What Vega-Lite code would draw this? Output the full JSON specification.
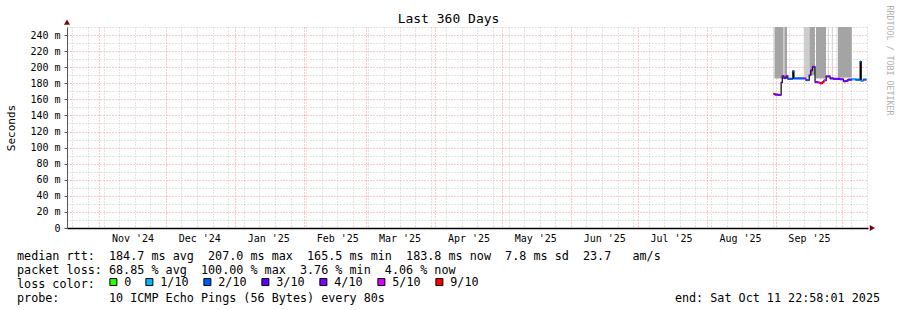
{
  "$schema": "https://vega.github.io/schema/vega-lite/v6.json",
  "width": 801,
  "height": 201,
  "autosize": {"type": "none"},
  "padding": {"left": 67, "top": 27, "right": 29, "bottom": 82},
  "background": "white",
  "config": {"view": {"stroke": null}, "font": "DejaVu Sans Mono"},
  "title": {"text": "Last 360 Days", "font": "DejaVu Sans Mono", "fontSize": 13, "fontWeight": "normal", "color": "black", "anchor": "middle", "offset": 4, "dy": 25, "dx": -19},
  "datasets": {
    "median": [
      {"t": "2025-08-30T23:00:00Z", "t2": "2025-08-31T17:00:00Z", "v": 167, "loss": "9/10"},
      {"t": "2025-08-31T17:00:00Z", "t2": "2025-09-02T00:00:00Z", "v": 166, "loss": "3/10"},
      {"t": "2025-09-02T00:00:00Z", "t2": "2025-09-03T12:00:00Z", "v": 165.5, "loss": "4/10"},
      {"t": "2025-09-03T12:00:00Z", "t2": "2025-09-04T00:00:00Z", "v": 181, "loss": "3/10"},
      {"t": "2025-09-04T00:00:00Z", "t2": "2025-09-04T18:00:00Z", "v": 189, "loss": "4/10"},
      {"t": "2025-09-04T18:00:00Z", "t2": "2025-09-05T18:00:00Z", "v": 186.5, "loss": "3/10"},
      {"t": "2025-09-05T18:00:00Z", "t2": "2025-09-06T12:00:00Z", "v": 189, "loss": "4/10"},
      {"t": "2025-09-06T12:00:00Z", "t2": "2025-09-08T18:00:00Z", "v": 185.5, "loss": "2/10"},
      {"t": "2025-09-08T18:00:00Z", "t2": "2025-09-09T06:00:00Z", "v": 195, "loss": "2/10"},
      {"t": "2025-09-09T06:00:00Z", "t2": "2025-09-13T18:00:00Z", "v": 186, "loss": "2/10"},
      {"t": "2025-09-13T18:00:00Z", "t2": "2025-09-14T15:00:00Z", "v": 186, "loss": "5/10"},
      {"t": "2025-09-14T15:00:00Z", "t2": "2025-09-16T03:00:00Z", "v": 184, "loss": "2/10"},
      {"t": "2025-09-16T03:00:00Z", "t2": "2025-09-16T20:00:00Z", "v": 190, "loss": "4/10"},
      {"t": "2025-09-16T20:00:00Z", "t2": "2025-09-17T14:00:00Z", "v": 196, "loss": "4/10"},
      {"t": "2025-09-17T14:00:00Z", "t2": "2025-09-18T18:00:00Z", "v": 200.5, "loss": "4/10"},
      {"t": "2025-09-18T18:00:00Z", "t2": "2025-09-20T00:00:00Z", "v": 181.5, "loss": "4/10"},
      {"t": "2025-09-20T00:00:00Z", "t2": "2025-09-21T00:00:00Z", "v": 181, "loss": "5/10"},
      {"t": "2025-09-21T00:00:00Z", "t2": "2025-09-22T00:00:00Z", "v": 180, "loss": "9/10"},
      {"t": "2025-09-22T00:00:00Z", "t2": "2025-09-22T18:00:00Z", "v": 181.5, "loss": "9/10"},
      {"t": "2025-09-22T18:00:00Z", "t2": "2025-09-23T18:00:00Z", "v": 183.7, "loss": "5/10"},
      {"t": "2025-09-23T18:00:00Z", "t2": "2025-09-25T12:00:00Z", "v": 188.5, "loss": "4/10"},
      {"t": "2025-09-25T12:00:00Z", "t2": "2025-09-27T00:00:00Z", "v": 186, "loss": "3/10"},
      {"t": "2025-09-27T00:00:00Z", "t2": "2025-09-28T12:00:00Z", "v": 185.5, "loss": "4/10"},
      {"t": "2025-09-28T12:00:00Z", "t2": "2025-09-30T00:00:00Z", "v": 185.5, "loss": "3/10"},
      {"t": "2025-09-30T00:00:00Z", "t2": "2025-10-01T12:00:00Z", "v": 185, "loss": "4/10"},
      {"t": "2025-10-01T12:00:00Z", "t2": "2025-10-02T12:00:00Z", "v": 182.5, "loss": "3/10"},
      {"t": "2025-10-02T12:00:00Z", "t2": "2025-10-03T12:00:00Z", "v": 183, "loss": "4/10"},
      {"t": "2025-10-03T12:00:00Z", "t2": "2025-10-05T06:00:00Z", "v": 184.5, "loss": "3/10"},
      {"t": "2025-10-05T06:00:00Z", "t2": "2025-10-07T00:00:00Z", "v": 185, "loss": "1/10"},
      {"t": "2025-10-07T00:00:00Z", "t2": "2025-10-09T00:00:00Z", "v": 184.5, "loss": "2/10"},
      {"t": "2025-10-09T00:00:00Z", "t2": "2025-10-09T12:00:00Z", "v": 207, "loss": "2/10"},
      {"t": "2025-10-09T12:00:00Z", "t2": "2025-10-10T06:00:00Z", "v": 183, "loss": "1/10"},
      {"t": "2025-10-10T06:00:00Z", "t2": "2025-10-11T22:58:00Z", "v": 184.5, "loss": "2/10"}
    ],
    "smokeDark": [
      {"start": "2025-08-31T17:00:00Z", "end": "2025-09-04T08:00:00Z", "lo": 186, "hi": 250},
      {"start": "2025-09-04T22:00:00Z", "end": "2025-09-06T03:00:00Z", "lo": 187, "hi": 250},
      {"start": "2025-09-16T04:00:00Z", "end": "2025-09-18T17:00:00Z", "lo": 190, "hi": 250},
      {"start": "2025-09-19T04:00:00Z", "end": "2025-09-23T16:00:00Z", "lo": 186, "hi": 250},
      {"start": "2025-09-28T23:00:00Z", "end": "2025-10-05T06:00:00Z", "lo": 187, "hi": 250}
    ],
    "smokeLight": [
      {"start": "2025-08-31T03:00:00Z", "end": "2025-08-31T17:00:00Z", "lo": 186, "hi": 250},
      {"start": "2025-09-04T08:00:00Z", "end": "2025-09-04T22:00:00Z", "lo": 188, "hi": 250},
      {"start": "2025-09-13T16:00:00Z", "end": "2025-09-16T04:00:00Z", "lo": 187, "hi": 250},
      {"start": "2025-09-24T11:00:00Z", "end": "2025-09-24T22:00:00Z", "lo": 189, "hi": 250},
      {"start": "2025-09-26T06:00:00Z", "end": "2025-09-26T17:00:00Z", "lo": 187, "hi": 250}
    ]
  },
  "layer": [
    {
      "data": {"name": "smokeDark"},
      "mark": {"type": "rect", "color": "#a4a4a4"},
      "encoding": {
        "x": {
          "field": "start", "type": "temporal",
          "scale": {"type": "utc", "padding": 0, "domain": [{"year": 2024, "month": 10, "date": 17, "hours": 13, "minutes": 0, "utc": true}, {"year": 2025, "month": 10, "date": 12, "hours": 13, "minutes": 0, "utc": true}]},
          "axis": {
            "title": [
              "median rtt:\u00a0\u00a0184.7 ms avg\u00a0\u00a0207.0 ms max\u00a0\u00a0165.5 ms min\u00a0\u00a0183.8 ms now\u00a0\u00a07.8 ms sd\u00a0\u00a023.7\u00a0\u00a0\u00a0am/s",
              "packet loss: 68.85 % avg\u00a0\u00a0100.00 % max\u00a0\u00a03.76 % min\u00a0\u00a04.06 % now",
              "loss color:",
              "probe:\u00a0\u00a0\u00a0\u00a0\u00a0\u00a0\u00a010 ICMP Echo Pings (56 Bytes) every 80s\u00a0\u00a0\u00a0\u00a0\u00a0\u00a0\u00a0\u00a0\u00a0\u00a0\u00a0\u00a0\u00a0\u00a0\u00a0\u00a0\u00a0\u00a0\u00a0\u00a0\u00a0\u00a0\u00a0\u00a0\u00a0\u00a0\u00a0\u00a0\u00a0\u00a0\u00a0\u00a0\u00a0\u00a0\u00a0\u00a0\u00a0\u00a0\u00a0\u00a0\u00a0end: Sat Oct 11 22:58:01 2025"
            ],
            "titleFont": "DejaVu Sans Mono", "titleFontSize": 11.75, "titleFontWeight": "normal", "titleColor": "black",
            "titleAlign": "left", "titleAnchor": "start", "titleBaseline": "alphabetic", "titleX": -50.5, "titleY": 31, "titleLineHeight": 14,
            "tickCount": {"interval": "day", "step": 1},
            "grid": true,
            "gridColor": {"condition": {"test": "utcdate(datum.value) == 1", "value": "#ff9090"}, "value": "#c8c8c8"},
            "gridOpacity": {"condition": {"test": "utcdate(datum.value) == 1 || utcday(datum.value) == 0", "value": 1}, "value": 0},
            "gridDash": [1, 2],
            "ticks": false,
            "labelExpr": "utcdate(datum.value) == 16 ? utcFormat(datum.value, \"%b '%y\") : ''",
            "labelFont": "DejaVu Sans Mono", "labelFontSize": 10, "labelColor": "black", "labelPadding": 5,
            "labelOverlap": false, "labelFlush": false, "labelBound": false,
            "domainColor": "black", "domainWidth": 1.5
          }
        },
        "x2": {"field": "end"},
        "y": {
          "field": "lo", "type": "quantitative",
          "scale": {"domain": [0, 250], "nice": false, "padding": 0, "zero": false},
          "axis": {
            "title": "Seconds", "titleFont": "DejaVu Sans Mono", "titleFontSize": 11, "titleFontWeight": "normal", "titleColor": "black",
            "titleAngle": -90, "titleX": -56, "titleY": 100.5, "titleAlign": "center", "titleBaseline": "middle",
            "tickCount": 25,
            "labelExpr": "datum.value % 20 == 0 && datum.value < 250 ? (datum.value == 0 ? '0' : datum.value + ' m') : ''",
            "labelFont": "DejaVu Sans Mono", "labelFontSize": 10, "labelColor": "black", "labelPadding": 4,
            "tickSize": 3, "tickColor": "#555555",
            "tickOpacity": {"condition": {"test": "datum.value % 20 == 0", "value": 1}, "value": 0},
            "grid": true,
            "gridColor": {"condition": {"test": "datum.value % 20 == 0", "value": "#ff9090"}, "value": "#c8c8c8"},
            "gridDash": [1, 2],
            "domainColor": "#555555"
          }
        },
        "y2": {"field": "hi"}
      }
    },
    {
      "data": {"name": "smokeLight"},
      "mark": {"type": "rect", "color": "#cdcdcd"},
      "encoding": {
        "x": {"field": "start", "type": "temporal"},
        "x2": {"field": "end"},
        "y": {"field": "lo", "type": "quantitative", "axis": null},
        "y2": {"field": "hi"}
      }
    },
    {
      "data": {"name": "median"},
      "mark": {"type": "line", "color": "black", "strokeWidth": 1.2, "interpolate": "step-after"},
      "encoding": {
        "x": {"field": "t", "type": "temporal"},
        "y": {
          "field": "v", "type": "quantitative",
          "axis": {
            "orient": "right", "title": "RRDTOOL / TOBI OETIKER", "titleFont": "DejaVu Sans Mono", "titleFontSize": 8.3,
            "titleFontWeight": "normal", "titleColor": "#b0b0b0", "titleAngle": 90, "titleX": 20, "titleY": 33,
            "titleAlign": "center", "titleBaseline": "middle",
            "labels": false, "ticks": false, "domain": false, "grid": false
          }
        }
      }
    },
    {
      "data": {"name": "median"},
      "mark": {"type": "bar", "height": 2.2},
      "encoding": {
        "x": {"field": "t", "type": "temporal"},
        "x2": {"field": "t2"},
        "y": {"field": "v", "type": "quantitative", "axis": null},
        "color": {
          "field": "loss", "type": "nominal",
          "scale": {"domain": ["0", "1/10", "2/10", "3/10", "4/10", "5/10", "9/10"], "range": ["#26ff00", "#00b8ff", "#0059ff", "#5e00ff", "#7e00ff", "#dd00ff", "#ff0000"]},
          "legend": {
            "orient": "none", "legendX": 40.5, "legendY": 249, "direction": "horizontal", "title": null,
            "symbolType": "square", "symbolSize": 49, "symbolStrokeColor": "black", "symbolStrokeWidth": 1,
            "labelFont": "DejaVu Sans Mono", "labelFontSize": 11.75, "labelColor": "black", "labelOffset": 5,
            "columnPadding": 12, "padding": 0,
            "encode": {"symbols": {
              "update": {"fill": {"scale": "color", "field": "value"}, "stroke": {"value": "black"}, "strokeWidth": {"value": 1}, "opacity": {"value": 1}}
            }}
          }
        }
      }
    },
    {
      "data": {"values": [{}]},
      "mark": {"type": "point", "shape": "triangle-up", "filled": true, "color": "#7f0000", "size": 36, "opacity": 1, "clip": false},
      "encoding": {
        "x": {"datum": {"year": 2024, "month": 10, "date": 17, "hours": 13, "utc": true}, "type": "temporal"},
        "y": {"datum": 256, "type": "quantitative", "axis": null}
      }
    },
    {
      "data": {"values": [{}]},
      "mark": {"type": "point", "shape": "triangle-right", "filled": true, "color": "#7f0000", "size": 36, "opacity": 1, "clip": false},
      "encoding": {
        "x": {"datum": {"year": 2025, "month": 10, "date": 14, "hours": 12, "utc": true}, "type": "temporal"},
        "y": {"datum": 0, "type": "quantitative", "axis": null}
      }
    }
  ],
  "resolve": {"axis": {"y": "independent"}}
}
